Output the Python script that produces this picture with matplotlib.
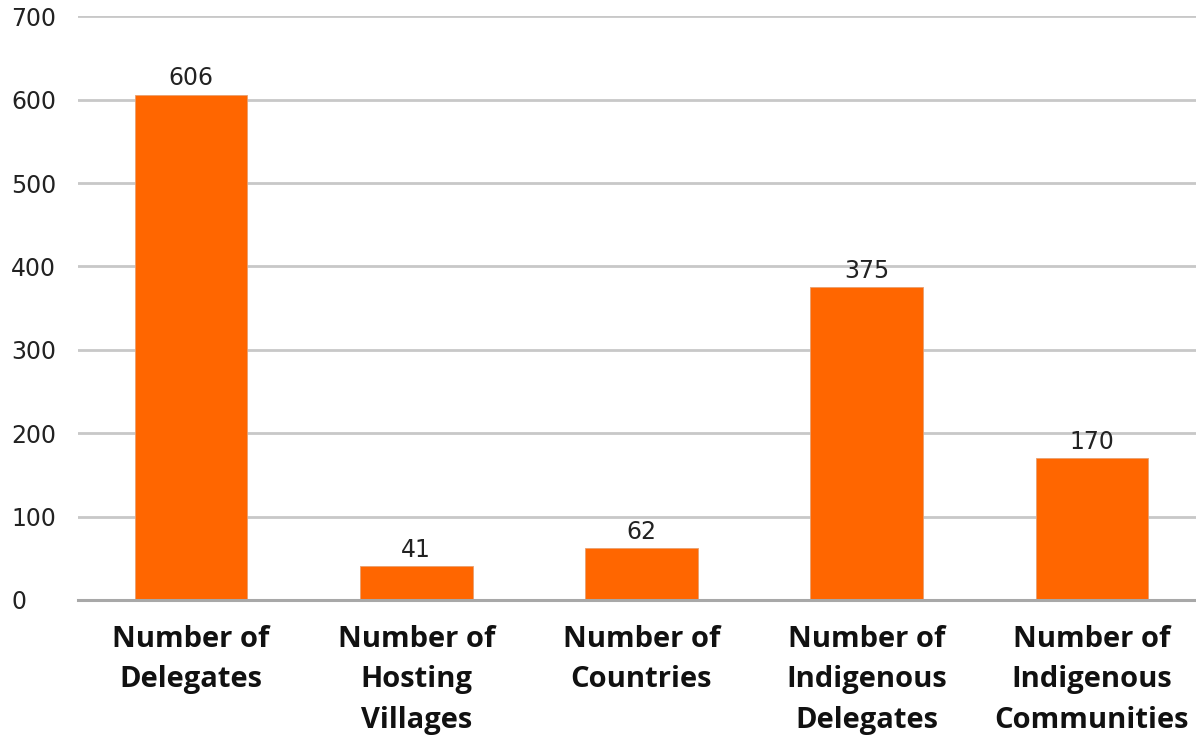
import matplotlib.pyplot as plt
import numpy as np

# Dados
categorias = ['Number of\nDelegates', 'Number of\nHosting\nVillages', 'Number of\nCountries',
              'Number of\nIndigenous\nDelegates', 'Number of\nIndigenous\nCommunities']
valores = [606, 41, 62, 375, 170]
yticks = [0, 100, 200, 300, 400, 500, 600, 700]

fig = plt.figure(figsize=(11.96, 7.38), dpi=100)
ax = fig.add_axes([0.0652, 0.187, 0.9348, 0.791])

x = np.arange(len(valores))
barras = ax.bar(x, valores, width=0.5, color='#FF6600', edgecolor='#e8a070', linewidth=0.6, zorder=3)

for b, v in zip(barras, valores):
    ax.annotate(str(v), (b.get_x() + b.get_width() / 2, v), xytext=(0, 3),
                textcoords='offset points', ha='center', va='bottom',
                fontsize=17, color='#222222', family='DejaVu Sans')

ax.set_xlim(-0.502, 4.462)
ax.set_ylim(0, 700)
ax.set_yticks(yticks)
ax.set_yticklabels([str(t) for t in yticks], ha='left', fontsize=17, color='#222222')
ax.tick_params(axis='y', length=0, pad=48)
ax.set_xticks(x)
ax.set_xticklabels(categorias, fontsize=21, fontweight='bold', family='Open Sans',
                   linespacing=1.52, color='#111111')
ax.tick_params(axis='x', length=0, pad=18)

ax.grid(axis='y', color='#c8c8c8', linewidth=2, zorder=0)
for s in ['top', 'right', 'left']:
    ax.spines[s].set_visible(False)
ax.spines['bottom'].set_color('#a8a8a8')
ax.spines['bottom'].set_linewidth(2.2)
ax.spines['bottom'].set_zorder(4)

fig.savefig('out.png', dpi=100)
